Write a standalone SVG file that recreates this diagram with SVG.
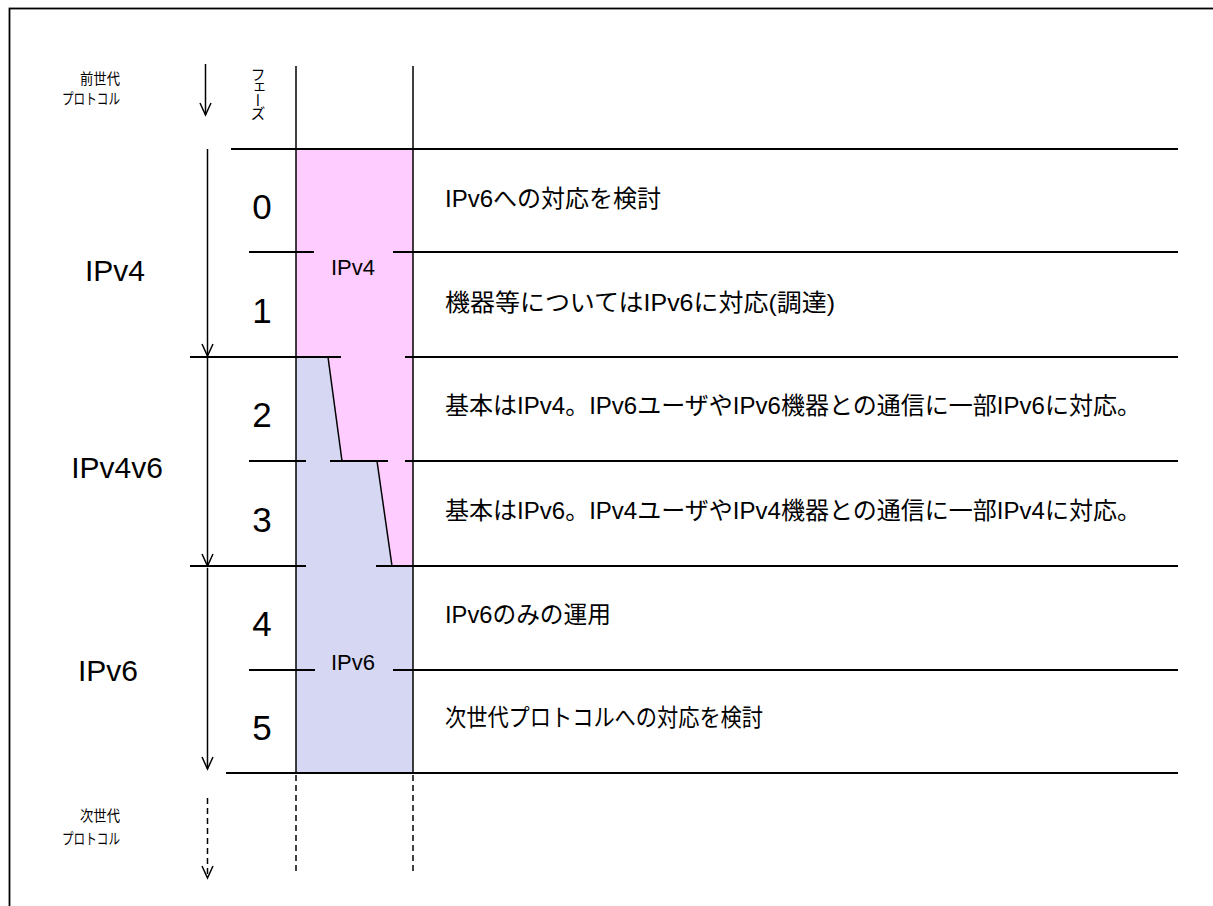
<svg xmlns="http://www.w3.org/2000/svg" width="1213" height="906" viewBox="0 0 1213 906">
<style>
.ln{stroke:#000;stroke-width:2;fill:none}
.vl{stroke:#000;stroke-width:1.5;fill:none}
.dl{stroke:#000;stroke-width:1.5;fill:none;stroke-dasharray:6 4}
.ah{stroke:#000;stroke-width:1.5;fill:none}
.jp{font-family:"Liberation Sans","Noto Sans CJK JP",sans-serif;fill:#000}
.sm{font-size:15px;text-anchor:middle}
.big{font-size:30px;text-anchor:middle}
.num{font-size:35px;text-anchor:middle}
.lbl{font-size:22px;text-anchor:middle}
.desc{font-size:24px}
</style>
<rect x="0" y="0" width="1213" height="906" fill="#fff"/>
<rect x="9.5" y="8.5" width="1300" height="1000" fill="none" stroke="#000" stroke-width="1.8"/>

<g id="column-fill">
<polygon points="296,149 413,149 413,566 392,566 377,461 342,461 328,357 296,357" fill="#FFCCFF"/>
<polygon points="296,357 328,357 342,461 377,461 392,566 413,566 413,773 296,773" fill="#D5D7F3"/>
</g>

<g id="connectors">
<line class="vl" x1="296" y1="66" x2="296" y2="773"/>
<line class="vl" x1="413" y1="66" x2="413" y2="773"/>
<line class="dl" x1="296" y1="775" x2="296" y2="875"/>
<line class="dl" x1="413" y1="775" x2="413" y2="875"/>
<line class="ln" x1="231" y1="149" x2="1178" y2="149"/>
<line class="ln" x1="249" y1="252" x2="314" y2="252"/>
<line class="ln" x1="393" y1="252" x2="1178" y2="252"/>
<line class="ln" x1="190" y1="357" x2="341" y2="357"/>
<line class="ln" x1="405" y1="357" x2="1178" y2="357"/>
<line class="ln" x1="249" y1="461" x2="306" y2="461"/>
<line class="ln" x1="330" y1="461" x2="388" y2="461"/>
<line class="ln" x1="405" y1="461" x2="1178" y2="461"/>
<line class="ln" x1="190" y1="566" x2="306" y2="566"/>
<line class="ln" x1="376" y1="566" x2="1178" y2="566"/>
<line class="ln" x1="249" y1="670" x2="315" y2="670"/>
<line class="ln" x1="393" y1="670" x2="1178" y2="670"/>
<line class="ln" x1="226" y1="773" x2="1178" y2="773"/>
<line class="vl" x1="328" y1="357" x2="342" y2="461"/>
<line class="vl" x1="377" y1="461" x2="392" y2="566"/>
<line class="vl" x1="205.5" y1="64" x2="205.5" y2="115"/>
<polyline class="ah" points="200,103 205.5,115 211,103"/>
<line class="vl" x1="207.5" y1="149" x2="207.5" y2="356"/>
<polyline class="ah" points="202,344 207.5,356 213,344"/>
<line class="vl" x1="207.5" y1="358" x2="207.5" y2="566"/>
<polyline class="ah" points="202,554 207.5,566 213,554"/>
<line class="vl" x1="207.5" y1="568" x2="207.5" y2="769"/>
<polyline class="ah" points="202,757 207.5,769 213,757"/>
<line class="dl" x1="207.5" y1="798" x2="207.5" y2="878"/>
<polyline class="ah" points="202,866 207.5,878 213,866"/>
</g>

<g id="prev-protocol">
<text class="jp sm" x="100" y="84" textLength="40" lengthAdjust="spacingAndGlyphs">前世代</text>
<text class="jp sm" x="91" y="104" textLength="58" lengthAdjust="spacingAndGlyphs">プロトコル</text>
</g>
<g id="phase-header">
<text x="258" y="67" font-size="15" letter-spacing="-2" writing-mode="tb" style="font-family:'Noto Sans CJK JP',sans-serif">フェーズ</text>
</g>
<g id="next-protocol">
<text class="jp sm" x="100" y="821" textLength="40" lengthAdjust="spacingAndGlyphs">次世代</text>
<text class="jp sm" x="91" y="844" textLength="58" lengthAdjust="spacingAndGlyphs">プロトコル</text>
</g>

<g id="gen-ipv4"><text class="jp big" x="115" y="281">IPv4</text></g>
<g id="gen-ipv4v6"><text class="jp big" x="117" y="478">IPv4v6</text></g>
<g id="gen-ipv6"><text class="jp big" x="108" y="681">IPv6</text></g>

<g id="col-ipv4"><text class="jp lbl" x="353" y="275">IPv4</text></g>
<g id="col-ipv6"><text class="jp lbl" x="353" y="670">IPv6</text></g>

<g id="phase-0"><text class="jp num" x="262" y="219">0</text><text class="jp desc" x="445" y="207" textLength="216" lengthAdjust="spacingAndGlyphs">IPv6への対応を検討</text></g>
<g id="phase-1"><text class="jp num" x="262" y="323">1</text><text class="jp desc" x="445" y="311" textLength="390" lengthAdjust="spacingAndGlyphs">機器等についてはIPv6に対応(調達)</text></g>
<g id="phase-2"><text class="jp num" x="262" y="427">2</text><text class="jp desc" x="445" y="414" textLength="696" lengthAdjust="spacingAndGlyphs">基本はIPv4。IPv6ユーザやIPv6機器との通信に一部IPv6に対応。</text></g>
<g id="phase-3"><text class="jp num" x="262" y="532">3</text><text class="jp desc" x="445" y="519" textLength="696" lengthAdjust="spacingAndGlyphs">基本はIPv6。IPv4ユーザやIPv4機器との通信に一部IPv4に対応。</text></g>
<g id="phase-4"><text class="jp num" x="262" y="636">4</text><text class="jp desc" x="445" y="623" textLength="166" lengthAdjust="spacingAndGlyphs">IPv6のみの運用</text></g>
<g id="phase-5"><text class="jp num" x="262" y="740">5</text><text class="jp desc" x="445" y="726" textLength="318" lengthAdjust="spacingAndGlyphs">次世代プロトコルへの対応を検討</text></g>
</svg>
